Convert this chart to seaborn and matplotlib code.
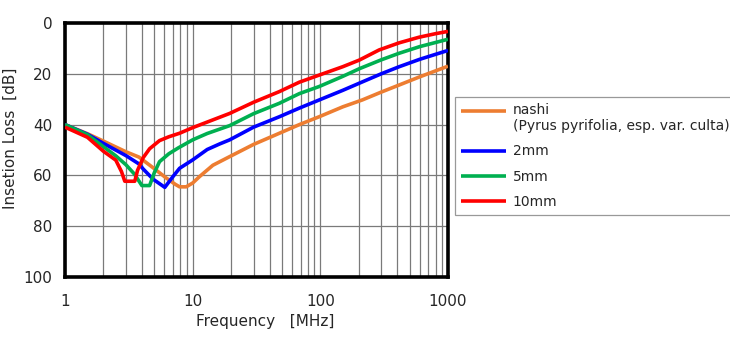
import matplotlib
matplotlib.use("Agg")
import matplotlib.pyplot as plt
import matplotlib.ticker as mticker
import numpy as np
import pandas as pd
import seaborn as sns

# ---- data ----
labels = ["nashi\n(Pyrus pyrifolia, esp. var. culta)", "2mm", "5mm", "10mm"]
colors = ["#ED7D31", "#0000FF", "#00B050", "#FF0000"]

nashi_f = [1, 1.5, 2, 3, 3.8, 4.9, 6.2, 7.3, 7.9, 8.9, 10, 11.3, 14.4, 19.5, 30,
           47.8, 68.5, 98, 150, 213, 300, 415, 600, 1000]
nashi_db = [40, 43.6, 46.5, 50.7, 52.8, 57, 61, 63.5, 64.5, 64.5, 63, 60.5, 56, 52.6, 47.8,
            43.4, 40, 36.9, 33, 30.3, 27.2, 24.4, 21.2, 17]

mm2_f = [1, 1.5, 2, 3, 3.8, 4.1, 4.9, 6.05, 7.0, 7.9, 10, 13, 16.3, 19.5, 30,
         47.8, 68.5, 98, 150, 202, 300, 415, 600, 1000]
mm2_db = [40, 43.8, 47.4, 52.2, 55.5, 57.5, 61.5, 64.7, 60.5, 57.2, 53.9, 49.8, 47.6, 46, 41,
          36.9, 33.5, 30.3, 26.5, 23.7, 20, 17.2, 14.3, 10.8]

mm5_f = [1, 1.5, 2, 2.5, 3, 3.5, 4.0, 4.6, 5.0, 5.5, 6.5, 7.7, 10, 13, 19.5, 30,
         47.8, 68.5, 98, 150, 202, 300, 415, 600, 1000]
mm5_db = [40, 44, 48.7, 52.3, 55.8, 59.5, 64, 64, 59, 54.6, 51.5, 49.2, 46, 43.5, 40.4, 35.7,
          31.6, 27.8, 25, 21, 18, 14.5, 11.9, 9.3, 6.4]

mm10_f = [1, 1.5, 2, 2.5, 2.77, 2.94, 3.52, 3.7, 4.1, 4.6, 5.5, 6.5, 7.9, 10, 13, 19.5, 30,
          47.8, 68.5, 98, 150, 202, 289, 415, 593, 800, 1000]
mm10_db = [41, 45, 50.5, 54, 58.5, 62.3, 62.3, 58, 53, 49.5, 46.3, 44.8, 43.4, 41.2, 39, 35.6, 31.2,
           27, 23.3, 20.5, 17.2, 14.6, 10.6, 7.8, 5.6, 4.2, 3.3]

x_ticks = [1, 10, 100, 1000]
y_ticks = [0, 20, 40, 60, 80, 100]

series = [(nashi_f, nashi_db), (mm2_f, mm2_db), (mm5_f, mm5_db), (mm10_f, mm10_db)]
frames = []
for lab, (f, d) in zip(labels, series):
    frames.append(pd.DataFrame({"Frequency": f, "Loss": d, "series": lab}))
df = pd.concat(frames, ignore_index=True)

# ---- plot ----
sns.set_theme(style="white")
plt.rcParams["font.family"] = ["DejaVu Sans"]

fig = plt.figure(figsize=(7.3, 3.5), dpi=100)
ax = fig.add_axes([65 / 730, 1 - 277 / 350, 383 / 730, 254 / 350])

sns.lineplot(data=df, x="Frequency", y="Loss", hue="series", hue_order=labels,
             palette=colors, sort=False, linewidth=2.6, ax=ax, zorder=3)
for ln in ax.get_lines():
    ln.set_solid_joinstyle("round")
    ln.set_solid_capstyle("butt")

ax.set_xscale("log")
ax.set_xlim(1, 1000)
ax.set_ylim(100, 0)
ax.set_xticks(x_ticks)
ax.set_xticklabels([str(t) for t in x_ticks])
ax.xaxis.set_minor_locator(mticker.LogLocator(base=10, subs=np.arange(2, 10)))
ax.xaxis.set_minor_formatter(mticker.NullFormatter())
ax.set_yticks(y_ticks)

ax.grid(True, which="major", color="#7a7a7a", linewidth=0.9)
ax.grid(True, which="minor", axis="x", color="#7a7a7a", linewidth=0.9)
ax.set_axisbelow(True)

ax.tick_params(axis="both", which="both", length=0, labelsize=11)
ax.tick_params(axis="x", pad=12)
ax.tick_params(axis="y", pad=9)
for s in ax.spines.values():
    s.set_visible(True)
    s.set_color("black")
    s.set_linewidth(2.6)

ax.set_xlabel("Frequency   [MHz]", fontsize=11)
ax.set_ylabel("Insetion Loss  [dB]", fontsize=11)
ax.xaxis.set_label_coords(0.522, -0.177)
ax.xaxis.label.set_verticalalignment("center")
ax.yaxis.set_label_coords(-0.144, 0.545)
ax.yaxis.label.set_verticalalignment("center")

leg = ax.legend(loc="upper left", bbox_to_anchor=(1.018, 0.709), frameon=True,
                fancybox=False, fontsize=10, handlelength=3.2, handletextpad=0.5,
                labelspacing=0.8, borderpad=0.45, borderaxespad=0, title=None)
leg.get_frame().set_edgecolor("#808080")
leg.get_frame().set_linewidth(0.9)
for i, line in enumerate(leg.get_lines()):
    line.set_linewidth(2.6)
    if i == 0:
        line.set_ydata(np.asarray(line.get_ydata()) + 5.5)

fig.savefig("out.png", dpi=100)
